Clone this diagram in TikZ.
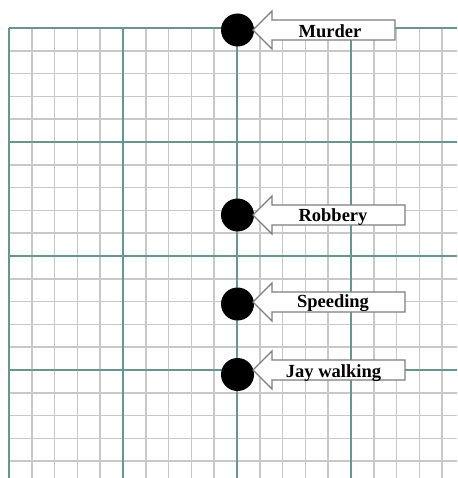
\documentclass[tikz,border=0pt]{standalone}
\usepackage{fontspec}
\setmainfont{Liberation Serif}
\definecolor{minorgrid}{RGB}{200,200,200}
\definecolor{majorgrid}{RGB}{105,148,148}
\definecolor{arrowgray}{RGB}{125,125,125}
\newcommand\tagarrow[6]{% tip y, right x, text x, text baseline y, text, name
  \draw[tagshape] (253,#1) -- (272,{#1-19}) -- (272,{#1-10}) -- (#2,{#1-10}) -- (#2,{#1+10}) -- (272,{#1+10}) -- (272,{#1+19}) -- cycle;
  \node[tagtext] (#6) at (#3,#4) {#5};}
\begin{document}
\begin{tikzpicture}[x=1pt,y=-1pt,
  minorline/.style={draw=minorgrid,line width=1.5pt},
  majorline/.style={draw=majorgrid,line width=1.4pt},
  dot/.style={circle,fill=black,inner sep=0pt,minimum size=33pt},
  tagshape/.style={draw=arrowgray,fill=white,line width=1.3pt,line join=miter},
  tagtext/.style={font=\fontsize{18.5}{20}\selectfont\bfseries,inner sep=0pt,anchor=base}]
\useasboundingbox (0,0) rectangle (457,478);
\fill[white] (0,0) rectangle (457,478);
\begin{scope}
  \clip (0,0) rectangle (457,478);
  \foreach \k in {0,...,19} {
    \draw[minorline] ({9+22.8*\k},28) -- ({9+22.8*\k},478);
    \draw[minorline] (9,{28+22.8*\k}) -- (457,{28+22.8*\k});
  }
  \foreach \k in {0,...,3} {
    \draw[majorline] ({9+114*\k},28) -- ({9+114*\k},478);
    \draw[majorline] (9,{28+114*\k}) -- (457,{28+114*\k});
  }
\end{scope}
\node[dot] (murderdot) at (237.5,30) {};
\node[dot] (robberydot) at (237.5,215) {};
\node[dot] (speedingdot) at (237.5,304) {};
\node[dot] (jaydot) at (237.5,374.5) {};
\tagarrow{30}{395}{330}{37.5}{Murder}{murder}
\tagarrow{215}{405}{333}{221}{Robbery}{robbery}
\tagarrow{302}{405}{333}{307}{Speeding}{speeding}
\tagarrow{370}{405}{333.5}{377}{Jay walking}{jaywalking}
\end{tikzpicture}
\end{document}
